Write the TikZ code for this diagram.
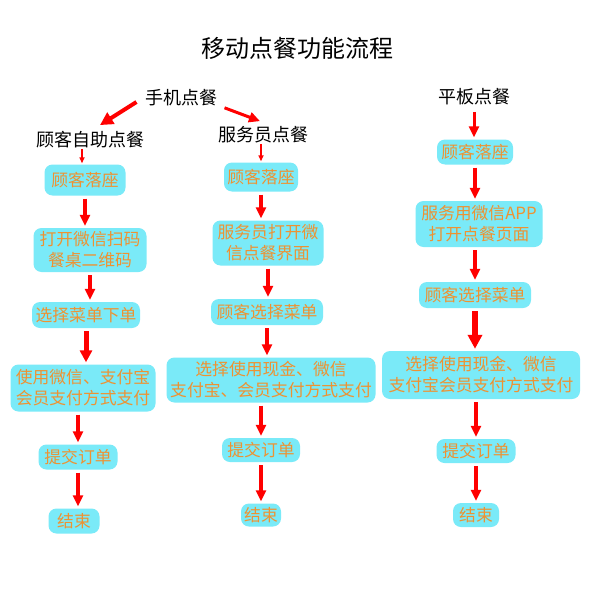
\documentclass[tikz,border=0pt]{standalone}
\usepackage{fontspec}
\setmainfont{Noto Sans CJK SC}
\usetikzlibrary{arrows.meta}
\definecolor{boxcyan}{RGB}{122,234,248}
\definecolor{txtorange}{RGB}{238,146,50}
\tikzset{
  stepbox/.style={rounded corners=8pt,fill=boxcyan,text=txtorange,inner sep=0pt,
    align=center,font=\fontsize{16.8}{21}\selectfont},
  head/.style={font=\fontsize{18}{20}\selectfont},
  flow/.style={draw=red,line width=3.5pt,-{Triangle[width=10pt,length=11pt]},
    shorten <=3pt,shorten >=2pt},
  bigflow/.style={flow,line width=6pt,-{Triangle[width=14pt,length=14pt]}},
  thinflow/.style={flow,line width=1.5pt,-{Triangle[width=5pt,length=6pt]},
    shorten <=-3pt,shorten >=1pt},
}

\begin{document}
\begin{tikzpicture}[x=1pt,y=-1pt]
  \useasboundingbox[fill=white] (0,0) rectangle (589,591);

  \node[font=\fontsize{24}{26}\selectfont] (title) at (297,48) {移动点餐功能流程};

  % headings
  \node[head] (phone) at (181,98) {手机点餐};
  \node[head] (self) at (90,140) {顾客自助点餐};
  \node[head] (waiter) at (263,135) {服务员点餐};
  \node[head] (pad) at (474,97) {平板点餐};

  % customer self service
  \node[stepbox,minimum width=81pt,minimum height=31pt] (s1) at (85,180) {顾客落座};
  \node[stepbox,minimum width=113pt,minimum height=44pt] (s2) at (90,250) {打开微信扫码\\餐桌二维码};
  \node[stepbox,minimum width=108pt,minimum height=26pt] (s3) at (86,315) {选择菜单下单};
  \node[stepbox,minimum width=145pt,minimum height=47pt] (s4) at (83,388) {使用微信、支付宝\\会员支付方式支付};
  \node[stepbox,minimum width=79pt,minimum height=25pt] (s5) at (78,457) {提交订单};
  \node[stepbox,minimum width=51pt,minimum height=25pt] (s6) at (74,521) {结束};

  % waiter
  \node[stepbox,minimum width=74pt,minimum height=29pt] (w1) at (261,177) {顾客落座};
  \node[stepbox,minimum width=111pt,minimum height=45pt] (w2) at (268,243) {服务员打开微\\信点餐界面};
  \node[stepbox,minimum width=112pt,minimum height=26pt] (w3) at (267,312) {顾客选择菜单};
  \node[stepbox,minimum width=209pt,minimum height=45pt] (w4) at (271,380) {选择使用现金、微信\\支付宝、会员支付方式支付};
  \node[stepbox,minimum width=78pt,minimum height=24pt] (w5) at (261,450) {提交订单};
  \node[stepbox,minimum width=40pt,minimum height=23pt] (w6) at (261,515) {结束};

  % tablet
  \node[stepbox,minimum width=76pt,minimum height=25pt] (p1) at (475,152) {顾客落座};
  \node[stepbox,minimum width=127pt,minimum height=46pt] (p2) at (479,224) {服务用微信APP\\打开点餐页面};
  \node[stepbox,minimum width=112pt,minimum height=26pt] (p3) at (475,295) {顾客选择菜单};
  \node[stepbox,minimum width=198pt,minimum height=48pt] (p4) at (481,375) {选择使用现金、微信\\支付宝会员支付方式支付};
  \node[stepbox,minimum width=79pt,minimum height=24pt] (p5) at (476,451) {提交订单};
  \node[stepbox,minimum width=46pt,minimum height=24pt] (p6) at (476,515) {结束};

  \draw[flow,line width=4pt,shorten <=0pt,shorten >=0pt,-{Triangle[width=13pt,length=13pt]}]
    ([xshift=-5pt,yshift=-4pt]phone.west) -- ([xshift=10pt,yshift=3pt]self.north);
  \draw[flow,line width=3pt,shorten <=0pt,shorten >=0pt]
    ([xshift=4pt,yshift=2pt]phone.south east) -- ([xshift=-3pt,yshift=2pt]waiter.north);

  \draw[thinflow] ([xshift=-8pt]self.south) -- ([xshift=-8pt]self.south |- s1.north);
  \draw[flow] (s1.south) -- (s1.south |- s2.north);
  \draw[flow] (s2.south) -- (s2.south |- s3.north);
  \draw[flow,line width=5pt,-{Triangle[width=12pt,length=12pt]}] (s3.south) -- (s3.south |- s4.north);
  \draw[flow] (s5.north |- s4.south) -- (s5.north);
  \draw[flow] (s5.south) -- (s5.south |- s6.north);

  \draw[thinflow] (w1.north |- waiter.south) -- (w1.north);
  \draw[flow] (w1.south) -- (w1.south |- w2.north);
  \draw[flow] (w2.south) -- (w2.south |- w3.north);
  \draw[flow] (w3.south) -- (w3.south |- w4.north);
  \draw[flow] (w5.north |- w4.south) -- (w5.north);
  \draw[flow,line width=4pt] (w5.south) -- (w5.south |- w6.north);

  \draw[flow,line width=3pt] (pad.south) -- (pad.south |- p1.north);
  \draw[flow] (p1.south) -- (p1.south |- p2.north);
  \draw[flow] (p3.north |- p2.south) -- (p3.north);
  \draw[bigflow] (p3.south) -- (p3.south |- p4.north);
  \draw[flow] (p5.north |- p4.south) -- (p5.north);
  \draw[flow] (p5.south) -- (p5.south |- p6.north);
\end{tikzpicture}
\end{document}
